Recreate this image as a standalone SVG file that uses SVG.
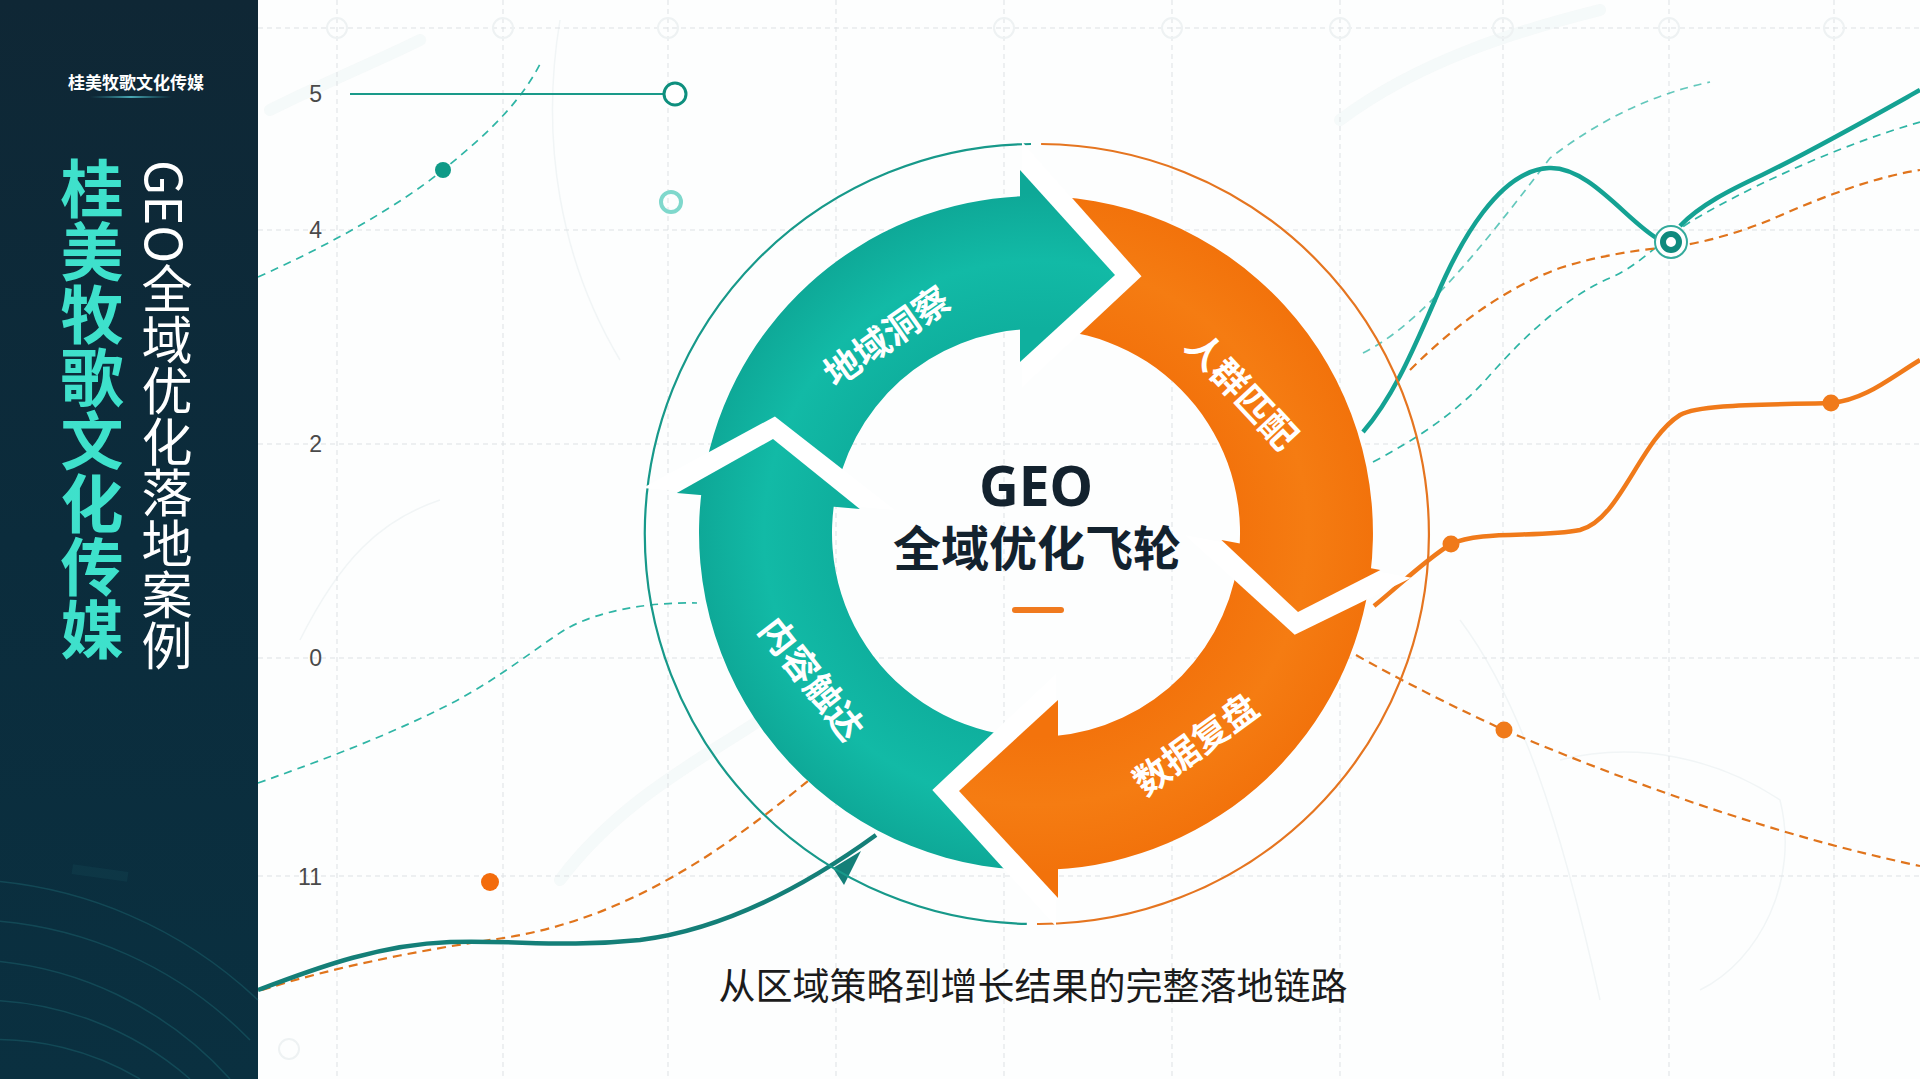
<svg xmlns="http://www.w3.org/2000/svg" width="1920" height="1079" viewBox="0 0 1920 1079">
<defs>
<style>
.grid{stroke:#dde1e4;stroke-width:1;stroke-dasharray:5 4;fill:none}
.gcirc{fill:none;stroke:#eef2f3;stroke-width:2}
.ylab{font-family:"Liberation Sans",Arial,sans-serif;font-size:23px;fill:#4a4a4a;text-anchor:end}
.cjk{font-family:"Noto Sans CJK SC","Noto Sans",sans-serif}
.lbl{font-family:"Noto Sans CJK SC",sans-serif;font-size:36px;font-weight:700;fill:#ffffff;text-anchor:middle;dominant-baseline:central}
.tdash{fill:none;stroke:#2fb5a5;stroke-width:1.7;stroke-dasharray:8 6}
.odash{fill:none;stroke:#e0741c;stroke-width:2.2;stroke-dasharray:9 6}
.halo{fill:#ffffff}
.teal{fill:url(#gTeal)}
.orange{fill:url(#gOrange)}
.arc{fill:none;stroke:#1f6f78;stroke-width:1.5;opacity:0.4}
</style>
<linearGradient id="gPanel" x1="0" y1="0" x2="0" y2="1">
<stop offset="0" stop-color="#0f2735"/>
<stop offset="0.5" stop-color="#0b2c3c"/>
<stop offset="1" stop-color="#0a3040"/>
</linearGradient>
<linearGradient id="gTitle" x1="0" y1="0" x2="0" y2="1">
<stop offset="0" stop-color="#3fe0cb"/>
<stop offset="1" stop-color="#2ff0d6"/>
</linearGradient>
<radialGradient id="gTeal" cx="1036" cy="533" r="340" gradientUnits="userSpaceOnUse">
<stop offset="0.6" stop-color="#0fb09e"/>
<stop offset="0.8" stop-color="#12baa6"/>
<stop offset="1" stop-color="#0ea897"/>
</radialGradient>
<radialGradient id="gOrange" cx="1036" cy="533" r="340" gradientUnits="userSpaceOnUse">
<stop offset="0.6" stop-color="#f3730c"/>
<stop offset="0.8" stop-color="#f57c12"/>
<stop offset="1" stop-color="#f2720b"/>
</radialGradient>
<linearGradient id="gOdashL" x1="258" y1="0" x2="810" y2="0" gradientUnits="userSpaceOnUse">
<stop offset="0" stop-color="#f0b27a" stop-opacity="0.4"/>
<stop offset="1" stop-color="#e0741c"/>
</linearGradient>
<linearGradient id="gOdashR" x1="1356" y1="0" x2="1920" y2="0" gradientUnits="userSpaceOnUse">
<stop offset="0" stop-color="#f0b27a"/>
<stop offset="0.6" stop-color="#e8822c"/>
<stop offset="1" stop-color="#f3c9a0" stop-opacity="0.5"/>
</linearGradient>
<linearGradient id="gUnder" x1="0" y1="0" x2="1" y2="0">
<stop offset="0" stop-color="#2d8c9a" stop-opacity="0"/>
<stop offset="0.5" stop-color="#4aa9b5"/>
<stop offset="1" stop-color="#2d8c9a" stop-opacity="0"/>
</linearGradient>
</defs>

<!-- background -->
<rect x="0" y="0" width="1920" height="1079" fill="#fdfefe"/>

<!-- faint background texture -->
<g fill="none" stroke="#eef5f6" stroke-width="12" stroke-linecap="round" opacity="0.5">
<path d="M270 110 C330 80 380 60 420 40"/>
<path d="M1340 120 C1420 60 1520 30 1600 10"/>
<path d="M560 880 C620 800 700 760 760 720"/>
</g>
<g fill="none" stroke="#f1f5f6" stroke-width="1.5">
<path d="M560 20 C540 140 560 260 620 360"/>
<path d="M1460 620 C1520 700 1560 820 1600 1000"/>
<path d="M1560 760 C1640 740 1720 760 1780 800 C1800 880 1760 960 1700 990"/>
<path d="M300 640 C340 560 380 520 440 500"/>
</g>

<!-- grid -->
<g id="grid">
<g class="grid">
<line x1="337" y1="0" x2="337" y2="1079"/>
<line x1="503" y1="0" x2="503" y2="1079"/>
<line x1="668" y1="0" x2="668" y2="1079"/>
<line x1="836" y1="0" x2="836" y2="1079"/>
<line x1="1004" y1="0" x2="1004" y2="1079"/>
<line x1="1172" y1="0" x2="1172" y2="1079"/>
<line x1="1340" y1="0" x2="1340" y2="1079"/>
<line x1="1503" y1="0" x2="1503" y2="1079"/>
<line x1="1669" y1="0" x2="1669" y2="1079"/>
<line x1="1834" y1="0" x2="1834" y2="1079"/>
<line x1="258" y1="28" x2="1920" y2="28"/>
<line x1="258" y1="230" x2="1920" y2="230"/>
<line x1="258" y1="444" x2="1920" y2="444"/>
<line x1="258" y1="658" x2="1920" y2="658"/>
<line x1="258" y1="876" x2="1920" y2="876"/>
</g>
<g class="gcirc">
<circle cx="337" cy="28" r="10"/>
<circle cx="503" cy="28" r="10"/>
<circle cx="668" cy="28" r="10"/>
<circle cx="1004" cy="28" r="10"/>
<circle cx="1172" cy="28" r="10"/>
<circle cx="1340" cy="28" r="10"/>
<circle cx="1503" cy="28" r="10"/>
<circle cx="1669" cy="28" r="10"/>
<circle cx="1834" cy="28" r="10"/>
<circle cx="289" cy="1049" r="10"/>
</g>
<text class="ylab" x="322" y="102">5</text>
<text class="ylab" x="322" y="238">4</text>
<text class="ylab" x="322" y="452">2</text>
<text class="ylab" x="322" y="666">0</text>
<text class="ylab" x="322" y="885">11</text>
</g>

<!-- connectors / chart lines -->
<g id="connectors">
<!-- top-left -->
<path class="tdash" d="M258 277 C330 245 400 205 443 170 C480 140 520 105 541 62"/>
<circle cx="443" cy="170" r="8" fill="#0f9a87"/>
<line x1="350" y1="94" x2="663" y2="94" stroke="#1a9a8a" stroke-width="2"/>
<circle cx="675" cy="94" r="11" fill="#ffffff" stroke="#0e8f7e" stroke-width="3"/>
<circle cx="671" cy="202" r="10" fill="none" stroke="#7fd8cc" stroke-width="4"/>

<!-- left -->
<path class="tdash" stroke="#3bbfb0" d="M258 783 C300 768 380 740 452 703 C500 678 540 645 566 629 C600 610 650 602 697 603"/>
<path class="odash" stroke="url(#gOdashL)" stroke-width="1.8" d="M262 990 C330 968 420 950 497 939 C560 930 620 908 681 872 C720 850 770 812 808 781"/>
<path d="M258 990 C300 975 370 945 450 942 C520 940 560 948 640 940 C720 930 800 890 876 835" fill="none" stroke="#147f78" stroke-width="4.5"/>
<polygon points="833,868 861,851 844,885" fill="#147f78"/>
<circle cx="490" cy="882" r="9" fill="#f36c0c"/>

<!-- right -->
<path class="tdash" opacity="0.75" d="M1363 353 C1420 325 1480 250 1550 158 C1600 120 1650 95 1710 82"/>
<path class="tdash" d="M1373 462 C1420 437 1460 410 1490 375 C1530 330 1570 295 1610 278 C1640 265 1655 245 1690 222 C1740 192 1830 148 1920 122"/>
<path class="odash" d="M1410 370 C1450 330 1500 290 1560 268 C1600 255 1640 250 1660 248 C1700 245 1740 232 1770 220 C1820 198 1870 178 1920 170"/>
<path d="M1363 432 C1395 395 1415 345 1435 300 C1460 240 1500 170 1549 168 C1590 166 1630 225 1660 240" fill="none" stroke="#14a293" stroke-width="4.5"/>
<path d="M1680 226 C1700 205 1730 190 1762 175 C1810 152 1870 118 1920 90" fill="none" stroke="#14a293" stroke-width="4.5"/>
<circle cx="1671" cy="242" r="16" fill="#ffffff" stroke="#34ab9c" stroke-width="2"/>
<circle cx="1671" cy="242" r="8" fill="#ffffff" stroke="#0f8a7d" stroke-width="6"/>
<path d="M1374 606 C1400 585 1425 560 1451 544 C1480 530 1540 538 1580 530 C1620 520 1640 440 1680 415 C1700 404 1760 405 1831 403 C1865 400 1890 378 1920 360" fill="none" stroke="#f07a1a" stroke-width="4.5"/>
<circle cx="1451" cy="544" r="8.5" fill="#f07a1a"/>
<circle cx="1831" cy="403" r="8.5" fill="#f07a1a"/>
<path class="odash" stroke="url(#gOdashR)" stroke-width="2" d="M1356 655 C1400 680 1460 710 1504 730 C1600 770 1750 830 1920 866"/>
<circle cx="1504" cy="730" r="8.5" fill="#f07a1a"/>
</g>

<!-- left panel -->
<g id="panel">
<rect x="0" y="0" width="258" height="1079" fill="url(#gPanel)"/>
<g class="arc">
<path d="M-20 880 A440 440 0 0 1 258 1000"/>
<path d="M-20 920 A400 400 0 0 1 250 1040"/>
<path d="M-20 960 A360 360 0 0 1 230 1079"/>
<path d="M-20 1000 A320 320 0 0 1 190 1079"/>
<path d="M-20 1040 A280 280 0 0 1 140 1079"/>
</g>
<rect x="72" y="868" width="56" height="10" fill="#1e5f68" opacity="0.18" transform="rotate(8 100 873)"/>
<text class="cjk" x="136" y="89" font-size="17" font-weight="700" fill="#ffffff" text-anchor="middle">桂美牧歌文化传媒</text>
<rect x="90" y="96" width="82" height="2" fill="url(#gUnder)"/>
<text class="cjk" x="92" y="157" font-size="63" font-weight="700" fill="url(#gTitle)" style="writing-mode:vertical-rl;text-orientation:mixed">桂美牧歌文化传媒</text>
<text class="cjk" x="167" y="160" font-size="51" font-weight="400" fill="#ffffff" style="writing-mode:vertical-rl;text-orientation:mixed">GEO全域优化落地案例</text>
</g>

<!-- flywheel -->
<g id="outer-ring">
<path d="M1026.8 923.9 A390 390 0 0 1 1031 144" fill="none" stroke="#17998a" stroke-width="2.2"/>
<path d="M1041.1 144 A390 390 0 0 1 1037 924" fill="none" stroke="#e57520" stroke-width="2.2"/>
</g>

<g id="bodies">
<path class="teal" d="M701.4 493.1 A337 337 0 0 1 1027.2 196.1 L1030.7 329.1 A204 204 0 0 0 834 504.7 Z"/>
<path class="orange" d="M1022 196.3 A337 337 0 0 1 1370.2 576.1 L1239.4 549 A204 204 0 0 0 1022 329.5 Z"/>
<path class="orange" d="M1370.9 570.3 A337 337 0 0 1 1053 869.6 L1053 736.3 A204 204 0 0 0 1239.6 545.5 Z"/>
<path class="teal" d="M1056 869.4 A337 337 0 0 1 701.9 489 L834.4 501.8 A204 204 0 0 0 1056 736 Z"/>
</g>

<g id="halos">
<polygon class="halo" points="1022,141.4 1141.5,276.3 1022,388.1"/>
<polygon class="halo" points="1411.4,577.8 1294.7,634.8 1185.2,535.2"/>
<polygon class="halo" points="1056,926.4 932.3,790 1056,673.9"/>
<polygon class="halo" points="642.7,488 774.9,416.4 894.7,510"/>
</g>

<g id="node-insight">
<polygon class="teal" points="1020,170 1115,275 1020,362"/>
<text class="lbl" transform="translate(885 334) rotate(-35)">地域洞察</text>
</g>
<g id="node-match">
<polygon class="orange" points="1380.4,570 1298,612 1221.4,540"/>
<text class="lbl" transform="translate(1244 389) rotate(47)">人群匹配</text>
</g>
<g id="node-review">
<polygon class="orange" points="1058,898 959,791 1058,700"/>
<text class="lbl" transform="translate(1194 742) rotate(-36)">数据复盘</text>
</g>
<g id="node-reach">
<polygon class="teal" points="676.8,493 773,439 859.8,509"/>
<text class="lbl" transform="translate(814 677) rotate(52)">内容触达</text>
</g>

<g id="center">
<text x="1036" y="506" font-family="'Noto Sans','Liberation Sans',sans-serif" font-size="55" font-weight="700" fill="#13222e" text-anchor="middle">GEO</text>
<text class="cjk" x="1037" y="566" font-size="48" font-weight="700" fill="#13222e" text-anchor="middle">全域优化飞轮</text>
<rect x="1012" y="607" width="52" height="6" rx="3" fill="#f07a1e"/>
</g>

<g id="subtitle">
<text class="cjk" x="1033" y="1000" font-size="37" font-weight="400" fill="#1b1b1b" text-anchor="middle">从区域策略到增长结果的完整落地链路</text>
</g>
</svg>
